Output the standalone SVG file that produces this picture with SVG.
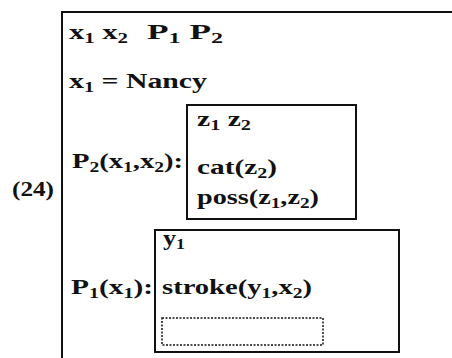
<svg xmlns="http://www.w3.org/2000/svg" width="452" height="358" viewBox="0 0 452 358">
<style>
.t{font-family:"Liberation Serif","Times New Roman",serif;font-weight:bold;font-size:22px;fill:#111}
.s{font-size:15px}
.box{fill:none;stroke:#111;stroke-width:2}
.dot{fill:none;stroke:#111;stroke-width:1.5;stroke-dasharray:2 1.5}
</style>
<rect width="452" height="358" fill="#fff"/>
<g id="label">
<text class="t" x="12" y="196" textLength="42" lengthAdjust="spacingAndGlyphs">(24)</text>
</g>
<g id="drs-main">
<path class="box" d="M62,358 V12 H452"/>
<text class="t" x="69" y="39" textLength="59" lengthAdjust="spacingAndGlyphs">x<tspan class="s" dy="4">1</tspan><tspan dy="-4"> x</tspan><tspan class="s" dy="4">2</tspan></text>
<text class="t" x="147" y="39" textLength="76" lengthAdjust="spacingAndGlyphs">P<tspan class="s" dy="4">1</tspan><tspan dy="-4"> P</tspan><tspan class="s" dy="4">2</tspan></text>
<text class="t" x="69" y="88" textLength="138" lengthAdjust="spacingAndGlyphs">x<tspan class="s" dy="4">1</tspan><tspan dy="-4"> = Nancy</tspan></text>
<text class="t" x="72" y="168" textLength="111" lengthAdjust="spacingAndGlyphs">P<tspan class="s" dy="4">2</tspan><tspan dy="-4">(x</tspan><tspan class="s" dy="4">1</tspan><tspan dy="-4">,x</tspan><tspan class="s" dy="4">2</tspan><tspan dy="-4">):</tspan></text>
<text class="t" x="71" y="294" textLength="82" lengthAdjust="spacingAndGlyphs">P<tspan class="s" dy="4">1</tspan><tspan dy="-4">(x</tspan><tspan class="s" dy="4">1</tspan><tspan dy="-4">):</tspan></text>
</g>
<g id="drs-z">
<rect class="box" x="187" y="105" width="169" height="114"/>
<text class="t" x="197" y="126" textLength="54" lengthAdjust="spacingAndGlyphs">z<tspan class="s" dy="4">1</tspan><tspan dy="-4"> z</tspan><tspan class="s" dy="4">2</tspan></text>
<text class="t" x="197" y="174" textLength="80" lengthAdjust="spacingAndGlyphs">cat(z<tspan class="s" dy="4">2</tspan><tspan dy="-4">)</tspan></text>
<text class="t" x="197" y="204" textLength="122" lengthAdjust="spacingAndGlyphs">poss(z<tspan class="s" dy="4">1</tspan><tspan dy="-4">,z</tspan><tspan class="s" dy="4">2</tspan><tspan dy="-4">)</tspan></text>
</g>
<g id="drs-y">
<rect class="box" x="155" y="230" width="244" height="122"/>
<text class="t" x="163" y="245" textLength="22" lengthAdjust="spacingAndGlyphs">y<tspan class="s" dy="4">1</tspan></text>
<text class="t" x="162" y="294" textLength="150" lengthAdjust="spacingAndGlyphs">stroke(y<tspan class="s" dy="4">1</tspan><tspan dy="-4">,x</tspan><tspan class="s" dy="4">2</tspan><tspan dy="-4">)</tspan></text>
<rect id="drs-empty" class="dot" x="162" y="318" width="161" height="27"/>
</g>
</svg>
